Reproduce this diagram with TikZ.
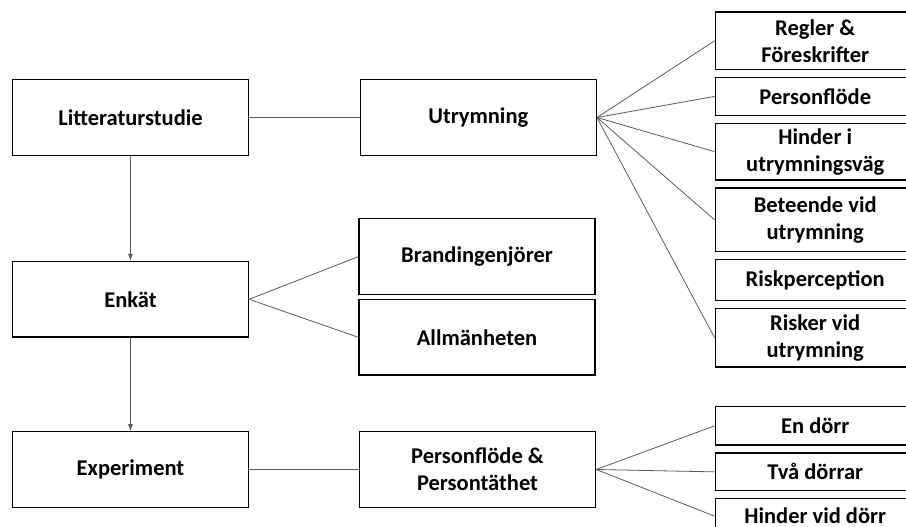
\documentclass[tikz,border=0pt]{standalone}
\usepackage{fontspec}
\setmainfont{Carlito}
\usetikzlibrary{positioning,arrows.meta}

\begin{document}
\begin{tikzpicture}[
  x=1pt, y=-1pt,
  block/.style={rectangle, draw=black, line width=1.3pt, minimum width=236pt, minimum height=75.6pt, align=center, inner sep=1pt},
  sub/.style={rectangle, draw=black, line width=1.3pt, minimum width=200pt, align=center, inner sep=1pt, anchor=north west},
  link/.style={draw=black!65, line width=0.8pt},
  node distance=6.7pt,
  font=\fontsize{22.5}{27}\selectfont\bfseries
]
\clip (0,0) rectangle (906,527);

\node[block] (lit) at (130.5,117.5) {Litteraturstudie};
\node[block] (utr) at (478.3,117.5) {Utrymning};
\node[block] (enk) at (130.5,299.3) {Enkät};
\node[block] (brand) at (477,256.6) {Brandingenjörer};
\node[block] (allm) at (477,337.3) {Allmänheten};
\node[block] (exp) at (130.5,469.5) {Experiment};
\node[block] (pers) at (477.5,469.5) {Personflöde \&\\Persontäthet};

% Utrymning column
\node[sub, minimum height=57.5pt] (regler) at (714.6,11.4) {Regler \&\\Föreskrifter};
\node[sub, minimum height=37.7pt, below=of regler] (pflode) {Personflöde};
\node[sub, minimum height=56.8pt, below=of pflode] (hinder) {Hinder i\\utrymningsväg};
\node[sub, minimum height=63.6pt, below=of hinder] (beteende) {Beteende vid\\utrymning};
\node[sub, minimum height=41pt, below=of beteende] (riskp) {Riskperception};
\node[sub, minimum height=58.2pt, below=of riskp] (risker) {Risker vid\\utrymning};

% Experiment column
\node[sub, minimum height=38.4pt] (endorr) at (714.6,406) {En dörr};
\node[sub, minimum height=37.6pt, below=of endorr] (tva) {Två dörrar};
\node[sub, minimum height=35pt, below=of tva] (hdorr) {Hinder vid dörr};

% Arrows
\draw[link, -{Latex[length=7pt,width=5pt]}] (lit) -- (enk);
\draw[link, -{Latex[length=7pt,width=5pt]}] (enk) -- (exp);

% Lines
\draw[link] (lit) -- (utr);
\draw[link] (exp) -- (pers);
\draw[link] (enk.east) -- (brand.west);
\draw[link] (enk.east) -- (allm.west);
\foreach \t in {regler,pflode,hinder,beteende,risker}
  \draw[link] (utr.east) -- (\t.west);
\foreach \t in {endorr,tva,hdorr}
  \draw[link] (pers.east) -- (\t.west);

\end{tikzpicture}
\end{document}
